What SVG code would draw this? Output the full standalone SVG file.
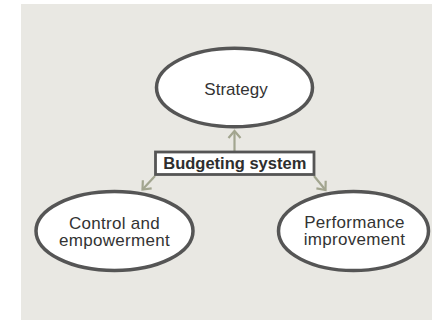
<svg xmlns="http://www.w3.org/2000/svg" width="432" height="321" viewBox="0 0 432 321">
  <style>
    .node ellipse { fill: #ffffff; stroke: #555555; stroke-width: 3.5; }
    .node text { font-family: "Liberation Sans", Arial, sans-serif; font-size: 17px; letter-spacing: 0.3px; fill: #333333; text-anchor: middle; }
    .hub rect { fill: #ffffff; stroke: #555555; stroke-width: 2.8; }
    .hub text { font-family: "Liberation Sans", Arial, sans-serif; font-size: 16.5px; font-weight: bold; fill: #2e2e2e; text-anchor: middle; }
    .link { stroke: #a2a58f; stroke-width: 2.2; fill: none; marker-end: url(#chevron); }
  </style>
  <defs>
    <marker id="chevron" markerUnits="userSpaceOnUse" markerWidth="20" markerHeight="20" viewBox="-10 -10 20 20" refX="0" refY="0" orient="auto">
      <path d="M-7,-6 L0,0 L-7,6" fill="none" stroke="#a2a58f" stroke-width="2.2" stroke-linejoin="miter"/>
    </marker>
  </defs>

  <rect x="21" y="4" width="411" height="316" fill="#e9e8e3"/>

  <g id="connectors">
    <line class="link" x1="234.5" y1="151" x2="234.5" y2="131"/>
    <line class="link" x1="155" y1="176" x2="142.5" y2="189.5"/>
    <line class="link" x1="314" y1="176" x2="325.5" y2="190"/>
  </g>

  <g id="strategy" class="node">
    <ellipse cx="234.5" cy="87.5" rx="78" ry="39.3"/>
    <text x="236" y="95" style="letter-spacing:0">Strategy</text>
  </g>

  <g id="control" class="node">
    <ellipse cx="114.5" cy="231" rx="78.5" ry="39.5"/>
    <text x="114.5" y="228.5">Control and</text>
    <text x="114.5" y="246">empowerment</text>
  </g>

  <g id="performance" class="node">
    <ellipse cx="353.5" cy="231" rx="75" ry="39.5"/>
    <text x="354.5" y="227.5">Performance</text>
    <text x="354.5" y="245">improvement</text>
  </g>

  <g id="budgeting" class="hub">
    <rect x="155.5" y="152" width="158.5" height="22.5"/>
    <text x="234.8" y="168.5">Budgeting system</text>
  </g>
</svg>
